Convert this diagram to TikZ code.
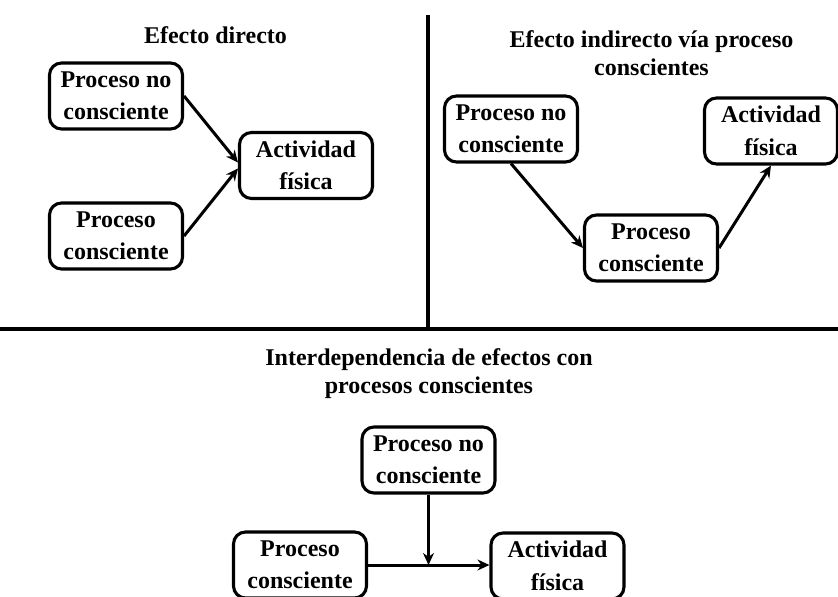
\documentclass[tikz,border=0pt]{standalone}
\usepackage{fontspec}
\setmainfont{Liberation Serif}
\usetikzlibrary{arrows.meta}
\begin{document}
\begin{tikzpicture}[x=1pt,y=-1pt,
  box/.style={draw, line width=3.1pt, rounded corners=12pt, minimum width=133pt, minimum height=66pt, inner sep=0pt, align=center, font=\fontsize{24}{32.5}\selectfont\bfseries},
  ttl/.style={align=center, font=\fontsize{24}{28.5}\selectfont\bfseries},
  arr/.style={-{Stealth[length=12pt,width=11pt]}, line width=3pt},
  sep/.style={line width=3.2pt}]
\useasboundingbox (0,0) rectangle (838,597);
\clip (0,0) rectangle (838,597);
% separators
\coordinate (vtop) at (428,15);
\coordinate (vbot) at (428,329);
\coordinate (hl) at (0,329);
\coordinate (hr) at (838,329);
\draw[sep] (vtop) -- (vbot);
\draw[sep] (hl) -- (hr);
% titles
\node[ttl, anchor=base] (t1) at (215.5,43) {Efecto directo};
\node[ttl] (t2) at (651.5,53) {Efecto indirecto vía proceso\\conscientes};
\node[ttl] (t3) at (429,373.5) {Interdependencia de efectos con\\procesos conscientes};
% panel 1
\node[box] (A) at (116,96) {Proceso no\\consciente};
\node[box] (B) at (306,165.5) {Actividad\\física};
\node[box] (C) at (116,236) {Proceso\\consciente};
\draw[arr] (A.east) -- ([yshift=3pt]B.west);
\draw[arr] (C.east) -- ([yshift=-3pt]B.west);
% panel 2
\node[box] (D) at (511,129) {Proceso no\\consciente};
\node[box] (E) at (771,131) {Actividad\\física};
\node[box] (F) at (651,248) {Proceso\\consciente};
\draw[arr] (D.south) -- (F.west);
\draw[arr] (F.east) -- (E.south);
% panel 3
\node[box] (G) at (428.5,460) {Proceso no\\consciente};
\node[box] (H) at (300,565) {Proceso\\consciente};
\node[box] (I) at (557.5,566) {Actividad\\física};
\draw[arr] (H.east) -- (H.east -| I.west);
\draw[arr] (G.south) -- (G.south |- H.east);
\end{tikzpicture}
\end{document}
